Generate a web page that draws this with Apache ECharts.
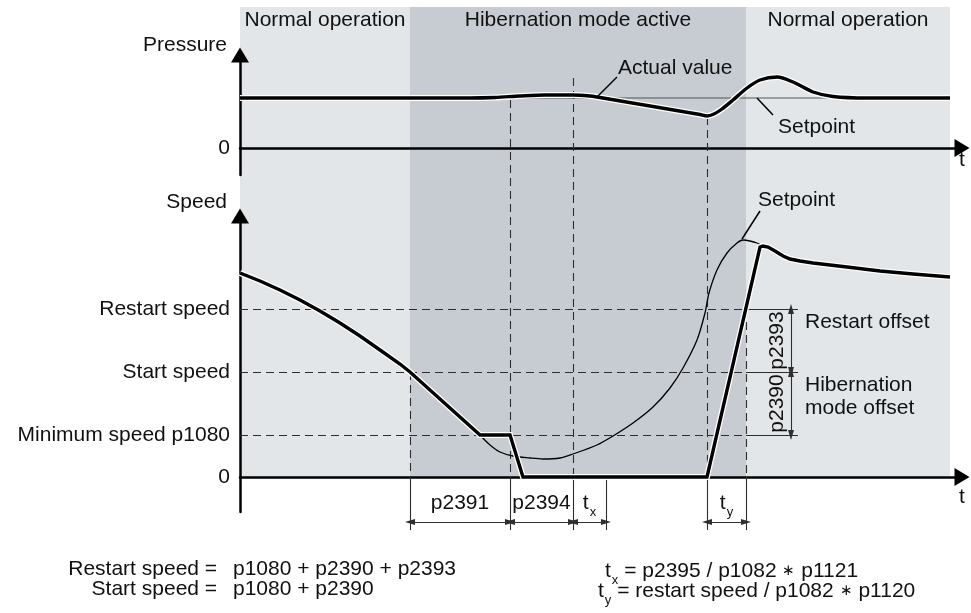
<!DOCTYPE html>
<html>
<head>
<meta charset="utf-8">
<script src="https://cdn.jsdelivr.net/npm/echarts@6/dist/echarts.min.js"></script>
<style>
  html, body { margin: 0; padding: 0; background: #fff; }
  #chart { width: 971px; height: 613px; }
</style>
</head>
<body>
<div id="chart"></div>
<script>
// ---------- data ----------
// time runs along both panels in arbitrary units
const T_MAX = 722;

// operating phases
const phaseStart = [0, 170, 506];
const phaseEnd = [170, 506, 710];
const phaseName = ['Normal operation', 'Hibernation mode active', 'Normal operation'];
const phaseDark = [false, true, false];

// pressure panel
const pressureSetpoint = [[0, 50], [600, 50]];
const pressureActual = [
  [0, 50], [230, 50], [255, 50.5], [280, 52], [305, 53], [333, 53], [350, 52],
  [357, 51], [410, 42], [460, 33.5], [467, 32], [474, 34], [482, 39], [493, 48],
  [507, 60], [520, 68], [537, 71], [553, 66], [573, 56], [593, 51.5],
  [627, 50], [710, 50]
];

// speed thresholds
const minSpeed = 42;       // p1080
const startSpeed = 105;    // p1080 + p2390
const restartSpeed = 168;  // p1080 + p2390 + p2393
const speedLevels = [0, minSpeed, startSpeed, restartSpeed];
const speedLevelNames = ['0', 'Minimum speed p1080', 'Start speed', 'Restart speed'];

// speed panel
const speedActual = [
  [0, 204], [20, 196], [40, 187], [60, 177], [80, 166], [100, 154],
  [120, 141], [140, 127], [160, 113], [170, 105], [240, 42], [270, 42],
  [283, 0], [467, 0], [520, 230], [523, 231], [528, 230], [535, 226],
  [543, 221], [550, 218], [560, 216], [573, 214], [590, 212], [607, 210],
  [640, 206], [673, 203], [710, 200]
];
const speedSetpoint = [
  [240, 42], [250, 32], [260, 25], [273, 21], [290, 19], [303, 18],
  [320, 19], [333, 23], [357, 32], [373, 41], [393, 54], [413, 70],
  [430, 89], [443, 109], [457, 137], [465, 164], [469, 184], [477, 207],
  [487, 224], [497, 234], [503, 237], [510, 236], [517, 234], [523, 231]
];

// event times
const guideTimes = [170, 270, 333, 467, 506];
const guideTopSpeed = [startSpeed, null, null, null, restartSpeed];
const guideTopPressure = [null, 48, 70, 31, null];
const dimTicks = [170, 270, 333, 366, 467, 506];
const dimSpans = [[170, 270], [270, 333], [333, 366], [467, 506]];
const dimNames = ['p2391', 'p2394', '{t|t}{s|x}', '{t|t}{s|y}'];

// offsets on the right of the speed panel
const offsetFrom = 506, offsetTo = 558, offsetArrowT = 551;

// ---------- layout ----------
const LEFT = 240, WIDTH = 722;
const P_TOP = 55, P_ZERO = 148, P_BOTTOM = 175;
const S_TOP = 216, S_ZERO = 477, S_BOTTOM = 512;
const BG_TOP = 7, BG_BOTTOM = 530;
const BG_MAX = S_ZERO - BG_TOP, BG_MIN = -(BG_BOTTOM - S_ZERO);
const pressureOnBg = p => p + (S_ZERO - P_ZERO);

const FONT = '"Liberation Sans", Arial, sans-serif';
const FS = 21;
const INK = '#111111';
const LIGHT = '#e2e6e9';
const DARK = '#c6ccd2';
const DASH = { color: '#2e2e2e', width: 1.1, type: [8, 5] };
const THIN = { color: '#2e2e2e', width: 1.1, type: 'solid' };
const rich = {
  t: { fontSize: FS, fontFamily: FONT, color: INK },
  s: { fontSize: 13, fontFamily: FONT, color: INK, padding: [18, 0, 0, 1] },
  a: { fontSize: 15, fontFamily: FONT, color: INK }
};

const seg = (a, b, style) => [{ coord: a, lineStyle: style }, { coord: b }];

function xAxisFor(gridIndex, show, namePad) {
  return {
    type: 'value', gridIndex, min: 0, max: T_MAX,
    show,
    name: show ? 't' : '',
    nameLocation: 'end', nameGap: 0,
    nameTextStyle: { fontSize: FS, fontFamily: FONT, color: INK, align: 'center', verticalAlign: 'top', padding: [namePad, 0, 0, 0] },
    axisLine: { show, onZero: true, lineStyle: { color: '#000', width: 2.5 }, symbol: ['none', 'triangle'], symbolSize: [18, 15] },
    axisTick: { show: false }, axisLabel: { show: false }, splitLine: { show: false }
  };
}

function yAxisFor(gridIndex, min, max, name, nameGap, values, names) {
  return {
    type: 'value', gridIndex, min, max,
    name, nameLocation: 'end', nameGap,
    nameTextStyle: { fontSize: FS, fontFamily: FONT, color: INK, align: 'right', verticalAlign: 'middle', padding: [0, 13, 0, 0] },
    axisLine: { show: true, onZero: false, lineStyle: { color: '#000', width: 2.5 }, symbol: ['none', 'triangle'], symbolSize: [18, 15] },
    axisTick: { show: false },
    axisLabel: {
      show: true, customValues: values, margin: 10,
      fontSize: FS, fontFamily: FONT, color: INK,
      formatter: v => names[values.indexOf(v)]
    },
    splitLine: { show: false }
  };
}

// ---------- marker sets ----------
const phaseAreas = phaseStart.map((s, i) => [
  { coord: [s, 0], name: phaseName[i], itemStyle: { color: phaseDark[i] ? DARK : LIGHT } },
  { coord: [phaseEnd[i], BG_MAX] }
]);

const guideLines = guideTimes.map((t, i) => {
  const top = guideTopSpeed[i] != null ? guideTopSpeed[i] : pressureOnBg(guideTopPressure[i]);
  return seg([t, top], [t, 0], DASH);
});

const levelDashes = speedLevels.slice(1).map(v => seg([0, v], [offsetFrom, v], DASH));
const levelSolids = speedLevels.slice(1).map(v => seg([offsetFrom, v], [offsetTo, v], THIN));

const dimTickLines = dimTicks.map(t => seg([t, 0], [t, BG_MIN], THIN));
const dimArrowLines = dimSpans.map(([a, b]) => seg([a, -45], [b, -45], THIN));
const offsetArrows = [
  seg([offsetArrowT, restartSpeed], [offsetArrowT, startSpeed], THIN),
  seg([offsetArrowT, startSpeed], [offsetArrowT, minSpeed], THIN)
];

// text annotations on the background grid (time, speed units)
const bgNotes = [
  { value: [518, 277], name: 'Setpoint' },
  { value: [565, 155], name: 'Restart offset' },
  { value: [565, 80], name: 'Hibernation\nmode offset' }
];
const dimNotes = dimSpans.map(([a, b], i) => ({ value: [(a + b) / 2, -26], name: dimNames[i] }));
const offsetNotes = [
  { value: [537, (restartSpeed + startSpeed) / 2], name: 'p2393' },
  { value: [537, (startSpeed + minSpeed) / 2], name: 'p2390' }
];
const pressureNotes = [
  { value: [378, 80], name: 'Actual value' },
  { value: [538, 21], name: 'Setpoint' }
];

const labelBase = { show: true, fontSize: FS, fontFamily: FONT, color: INK, opacity: 1, formatter: '{b}', rich };

function noteSeries(xi, yi, data, label) {
  return {
    type: 'scatter', xAxisIndex: xi, yAxisIndex: yi, symbolSize: 0, silent: true, clip: false,
    itemStyle: { opacity: 1 },
    data, label: Object.assign({}, labelBase, label), z: 6
  };
}

function lineSeries(xi, yi, data, color, width, z, smooth) {
  return {
    type: 'line', xAxisIndex: xi, yAxisIndex: yi, data, showSymbol: false, symbol: 'none',
    silent: true, clip: false, z,
    smooth: smooth || false,
    lineStyle: { color, width, cap: 'butt', join: 'miter' }
  };
}

const option = {
  animation: false,
  backgroundColor: '#ffffff',
  grid: [
    { left: LEFT, width: WIDTH, top: P_TOP, height: P_BOTTOM - P_TOP },
    { left: LEFT, width: WIDTH, top: S_TOP, height: S_BOTTOM - S_TOP },
    { left: LEFT, width: WIDTH, top: BG_TOP, height: BG_BOTTOM - BG_TOP }
  ],
  xAxis: [xAxisFor(0, true, 2), xAxisFor(1, true, 10), xAxisFor(2, false, 0)],
  yAxis: [
    yAxisFor(0, -(P_BOTTOM - P_ZERO), P_ZERO - P_TOP, 'Pressure', 10, [0], ['0']),
    yAxisFor(1, -(S_BOTTOM - S_ZERO), S_ZERO - S_TOP, 'Speed', 14, speedLevels, speedLevelNames),
    { type: 'value', gridIndex: 2, min: BG_MIN, max: BG_MAX, show: false, splitLine: { show: false } }
  ],
  series: [
    // phase shading
    {
      type: 'line', xAxisIndex: 2, yAxisIndex: 2, data: [], silent: true, z: -2,
      markArea: {
        silent: true, z: -2,
        label: { show: true, position: 'insideTop', distance: 3, fontSize: FS, fontFamily: FONT, color: INK },
        data: phaseAreas
      }
    },
    // guide lines and dimensions
    {
      type: 'line', xAxisIndex: 2, yAxisIndex: 2, data: [], silent: true, z: 1,
      markLine: {
        silent: true, z: 1, symbol: 'none', label: { show: false }, animation: false,
        data: guideLines.concat(dimTickLines)
      }
    },
    {
      type: 'line', xAxisIndex: 2, yAxisIndex: 2, data: [], silent: true, z: 1,
      markLine: {
        silent: true, z: 1, symbol: ['triangle', 'triangle'], symbolSize: [6, 10], label: { show: false }, animation: false,
        data: dimArrowLines
      }
    },
    {
      type: 'line', xAxisIndex: 1, yAxisIndex: 1, data: [], silent: true, z: 1,
      markLine: {
        silent: true, z: 1, symbol: 'none', label: { show: false }, animation: false,
        data: levelDashes.concat(levelSolids)
      }
    },
    {
      type: 'line', xAxisIndex: 1, yAxisIndex: 1, data: [], silent: true, z: 1,
      markLine: {
        silent: true, z: 1, symbol: ['triangle', 'triangle'], symbolSize: [6, 10], label: { show: false }, animation: false,
        data: offsetArrows
      }
    },
    // leader lines
    {
      type: 'line', xAxisIndex: 0, yAxisIndex: 0, data: [], silent: true, z: 4,
      markLine: {
        silent: true, z: 4, symbol: 'none', label: { show: false }, animation: false,
        data: [seg([357, 51], [377, 71], { color: '#000', width: 1.5, type: 'solid' }),
               seg([517, 50], [533, 33], { color: '#000', width: 1.5, type: 'solid' })]
      }
    },
    {
      type: 'line', xAxisIndex: 2, yAxisIndex: 2, data: [], silent: true, z: 4,
      markLine: {
        silent: true, z: 4, symbol: 'none', label: { show: false }, animation: false,
        data: [seg([502, 238], [520, 266], { color: '#000', width: 1.5, type: 'solid' })]
      }
    },
    // pressure curves
    lineSeries(0, 0, pressureSetpoint, '#555', 1, 2),
    lineSeries(0, 0, pressureActual, '#ffffff', 6, 3, 0.3),
    lineSeries(0, 0, pressureActual, '#000', 3.4, 3, 0.3),
    // speed curves
    lineSeries(1, 1, speedSetpoint, '#000', 1.3, 2, 0.3),
    lineSeries(1, 1, speedActual, '#ffffff', 6, 3),
    lineSeries(1, 1, speedActual, '#000', 3.4, 3),
    // text
    noteSeries(2, 2, bgNotes, { position: 'right', distance: 0, lineHeight: 23 }),
    noteSeries(2, 2, dimNotes, { position: 'inside' }),
    noteSeries(2, 2, offsetNotes, { position: 'inside', rotate: 90 }),
    noteSeries(0, 0, pressureNotes, { position: 'right', distance: 0 })
  ],
  graphic: [
    { type: 'text', x: 199, y: 569, style: { text: 'Restart speed', font: `${FS}px ${FONT}`, fill: INK, align: 'right', verticalAlign: 'middle' } },
    { type: 'text', x: 211, y: 569, style: { text: '=', font: `${FS}px ${FONT}`, fill: INK, align: 'center', verticalAlign: 'middle' } },
    { type: 'text', x: 233, y: 569, style: { text: 'p1080 + p2390 + p2393', font: `${FS}px ${FONT}`, fill: INK, align: 'left', verticalAlign: 'middle' } },
    { type: 'text', x: 199, y: 589, style: { text: 'Start speed', font: `${FS}px ${FONT}`, fill: INK, align: 'right', verticalAlign: 'middle' } },
    { type: 'text', x: 211, y: 589, style: { text: '=', font: `${FS}px ${FONT}`, fill: INK, align: 'center', verticalAlign: 'middle' } },
    { type: 'text', x: 233, y: 589, style: { text: 'p1080 + p2390', font: `${FS}px ${FONT}`, fill: INK, align: 'left', verticalAlign: 'middle' } },
    { type: 'text', x: 605, y: 571, style: { text: '{t|t}{s|x} = p2395 / p1082 {a|∗} p1121', font: `${FS}px ${FONT}`, fill: INK, align: 'left', verticalAlign: 'middle', rich } },
    { type: 'text', x: 598, y: 591, style: { text: '{t|t}{s|y} = restart speed / p1082 {a|∗} p1120', font: `${FS}px ${FONT}`, fill: INK, align: 'left', verticalAlign: 'middle', rich } }
  ]
};

const chart = echarts.init(document.getElementById('chart'));
chart.setOption(option);
</script>
</body>
</html>
